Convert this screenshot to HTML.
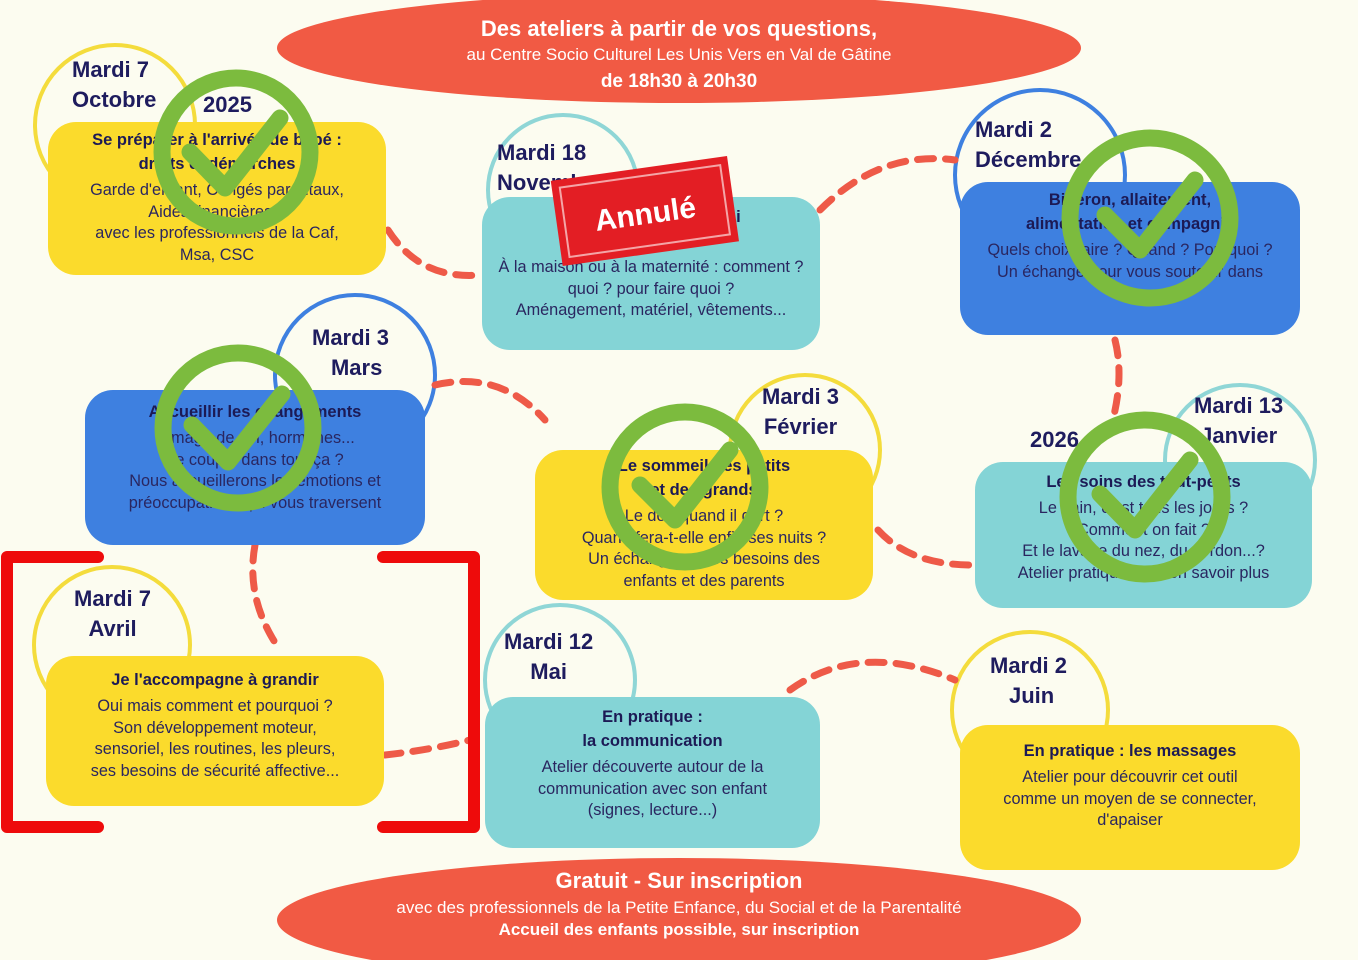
<!DOCTYPE html>
<html><head><meta charset="utf-8"><style>
body{margin:0;width:1358px;height:960px;overflow:hidden;background:#fcfcf0;font-family:"Liberation Sans",sans-serif;position:relative}
.card{position:absolute;border-radius:28px;text-align:center;color:#2a2660;font-size:16.3px;line-height:21.5px;box-sizing:border-box}
.card b{display:block;font-size:16.5px;color:#1c1a55;line-height:24px;margin-bottom:4px}
.y{background:#fbdb2c}.c{background:#84d4d6}.bl{background:#3e80e0}
.d{position:absolute;color:#1e1c5e;font-size:22px;line-height:30px;font-weight:bold;text-align:center}
svg{position:absolute;left:0;top:0}
.ban{position:absolute;color:#fff;text-align:center;width:1358px;left:0}
</style></head><body>
<svg width="1358" height="960">
<ellipse cx="679" cy="48" rx="402" ry="55" fill="#f15a44"/>
<ellipse cx="679" cy="920" rx="402" ry="62" fill="#f15a44"/>
<g fill="none" stroke-width="4">
<circle cx="115" cy="125" r="80" stroke="#f4dc3c"/>
<circle cx="563" cy="190" r="75" stroke="#8fd6d6"/>
<circle cx="1040" cy="175" r="85" stroke="#3e80e0"/>
<circle cx="355" cy="375" r="80" stroke="#3e80e0"/>
<circle cx="805" cy="450" r="75" stroke="#f4dc3c"/>
<circle cx="1240" cy="460" r="75" stroke="#8fd6d6"/>
<circle cx="112" cy="645" r="78" stroke="#f4dc3c"/>
<circle cx="560" cy="680" r="75" stroke="#8fd6d6"/>
<circle cx="1030" cy="710" r="78" stroke="#f4dc3c"/>
</g>
<g fill="none" stroke="#ee5a48" stroke-width="7" stroke-dasharray="16 12" stroke-linecap="round">
<path d="M388 230 Q420 280 480 275"/>
<path d="M820 210 Q880 150 955 160"/>
<path d="M1115 340 Q1125 380 1110 430"/>
<path d="M878 530 Q910 565 972 565"/>
<path d="M435 385 Q500 370 545 420"/>
<path d="M255 545 Q245 600 280 650"/>
<path d="M385 755 Q430 750 470 740"/>
<path d="M790 690 Q860 640 955 680"/>
</g>
</svg>
<div class="ban" style="top:16px;font-size:22px;font-weight:bold">Des ateliers à partir de vos questions,</div>
<div class="ban" style="top:45px;font-size:17px">au Centre Socio Culturel Les Unis Vers en Val de Gâtine</div>
<div class="ban" style="top:71px;font-size:19px;font-weight:bold">de 18h30 à 20h30</div>
<div class="ban" style="top:868px;font-size:22px;font-weight:bold">Gratuit - Sur inscription</div>
<div class="ban" style="top:898px;font-size:17px">avec des professionnels de la Petite Enfance, du Social et de la Parentalité</div>
<div class="ban" style="top:920px;font-size:17px;font-weight:bold">Accueil des enfants possible, sur inscription</div>

<div class="d" style="left:72px;top:55px;width:110px;text-align:left">Mardi 7<br>Octobre</div>
<div class="d" style="left:203px;top:90px">2025</div>
<div class="card y" style="left:48px;top:122px;width:338px;height:153px;padding-top:6px"><b>Se préparer à l'arrivée de bébé :<br>droits et démarches</b>Garde d'enfant, Congés parentaux,<br>Aides financières...<br>avec les professionnels de la Caf,<br>Msa, CSC</div>

<div class="d" style="left:497px;top:138px;text-align:left">Mardi 18<br>Novembre</div>
<div class="card c" style="left:482px;top:197px;width:338px;height:153px;padding-top:8px"><b>Avant la naissance, j'ai<br>&nbsp;</b>À la maison ou à la maternité : comment ?<br>quoi ? pour faire quoi ?<br>Aménagement, matériel, vêtements...</div>

<div class="d" style="left:975px;top:115px;text-align:left">Mardi 2<br>Décembre</div>
<div class="card bl" style="left:960px;top:182px;width:340px;height:153px;padding-top:6px"><b>Biberon, allaitement,<br>alimentation et compagnie</b>Quels choix faire ? Quand ? Pourquoi ?<br>Un échange pour vous soutenir dans<br>vos...</div>

<div class="d" style="left:312px;top:323px">Mardi 3<br>&nbsp;&nbsp;Mars</div>
<div class="card bl" style="left:85px;top:390px;width:340px;height:155px;padding-top:10px"><b>Accueillir les changements</b>L'image de soi, hormones...<br>Le couple dans tout ça ?<br>Nous accueillerons les émotions et<br>préoccupations qui vous traversent</div>

<div class="d" style="left:762px;top:382px">Mardi 3<br>Février</div>
<div class="card y" style="left:535px;top:450px;width:338px;height:150px;padding-top:4px"><b>Le sommeil des petits<br>et des grands</b>Le dort quand il dort ?<br>Quand fera-t-elle enfin ses nuits ?<br>Un échange sur les besoins des<br>enfants et des parents</div>

<div class="d" style="left:1030px;top:425px">2026</div>
<div class="d" style="left:1194px;top:391px">Mardi 13<br>Janvier</div>
<div class="card c" style="left:975px;top:462px;width:337px;height:146px;padding-top:8px"><b>Les soins des tout-petits</b>Le bain, c'est tous les jours ?<br>Comment on fait ?<br>Et le lavage du nez, du cordon...?<br>Atelier pratique pour en savoir plus</div>

<div class="d" style="left:74px;top:584px">Mardi 7<br>Avril</div>
<div class="card y" style="left:46px;top:656px;width:338px;height:150px;padding-top:12px"><b>Je l'accompagne à grandir</b>Oui mais comment et pourquoi ?<br>Son développement moteur,<br>sensoriel, les routines, les pleurs,<br>ses besoins de sécurité affective...</div>

<div class="d" style="left:504px;top:627px">Mardi 12<br>Mai</div>
<div class="card c" style="left:485px;top:697px;width:335px;height:151px;padding-top:8px"><b>En pratique :<br>la communication</b>Atelier découverte autour de la<br>communication avec son enfant<br>(signes, lecture...)</div>

<div class="d" style="left:990px;top:651px">Mardi 2<br>&nbsp;Juin</div>
<div class="card y" style="left:960px;top:725px;width:340px;height:145px;padding-top:14px"><b>En pratique : les massages</b>Atelier pour découvrir cet outil<br>comme un moyen de se connecter,<br>d'apaiser</div>

<svg width="1358" height="960">
<g fill="none" stroke="#7cbb3e" stroke-width="17" stroke-linecap="round" stroke-linejoin="round">
<circle cx="236" cy="152" r="74"/><path d="M190 152 L225 188 L280 118"/>
<circle cx="1150" cy="218" r="80"/><path d="M1105 215 L1140 250 L1195 180"/>
<circle cx="238" cy="428" r="75"/><path d="M192 425 L228 462 L282 394"/>
<circle cx="685" cy="487" r="75"/><path d="M640 485 L675 520 L730 450"/>
<circle cx="1145" cy="497" r="77"/><path d="M1100 494 L1135 530 L1190 460"/>
</g>
<g transform="rotate(-8 645 212)">
<rect x="556" y="168" width="178" height="86" fill="#e31e24"/>
<rect x="564" y="176" width="162" height="70" fill="none" stroke="#fff" stroke-width="2" opacity=".6"/>
<text x="645" y="224" fill="#fff" font-family="Liberation Sans" font-weight="bold" font-size="30" text-anchor="middle">Annulé</text>
</g>
<g fill="none" stroke="#ee0b0b" stroke-width="12" stroke-linecap="round" stroke-linejoin="round">
<path d="M98 557 L7 557 L7 827 L98 827"/>
<path d="M383 557 L474 557 L474 827 L383 827"/>
</g>
</svg>
</body></html>
